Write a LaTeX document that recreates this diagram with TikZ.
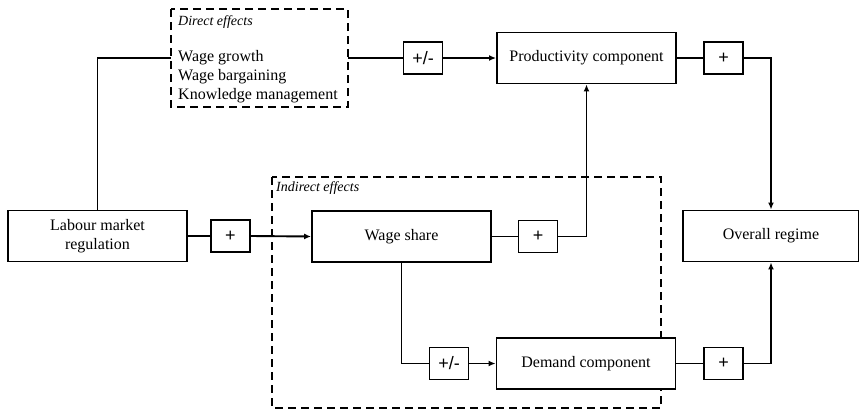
\documentclass[tikz,border=0pt]{standalone}
\usepackage{fontspec}
\setmainfont{Liberation Serif}
\setsansfont{Liberation Sans}
\usetikzlibrary{arrows.meta,positioning}
\tikzset{
  lw/.style={line width=1.9pt},
  box/.style={draw, fill=white, lw, minimum width=179pt, minimum height=51pt, inner sep=0pt, font=\fontsize{16}{19}\selectfont, align=center},
  sign/.style={draw, fill=white, lw, minimum width=39pt, minimum height=32pt, inner sep=0pt, font=\sffamily\fontsize{18}{20}\selectfont},
  group/.style={draw, lw, dash pattern=on 8pt off 5pt},
  conn/.style={lw},
  arr/.style={lw, -{Latex[length=7pt,width=6pt]}},
  lbl/.style={font=\itshape\fontsize{14}{16}\selectfont, anchor=west, inner sep=0pt},
  item/.style={font=\fontsize{16}{19}\selectfont, anchor=west, inner sep=0pt}
}
\begin{document}
\begin{tikzpicture}[x=1pt,y=-1pt]
\useasboundingbox (0,0) rectangle (859,410);
% groups
\draw[group] (171,9) rectangle (348,107);
\node[lbl] (dlabel) at (178,22) {Direct effects};
\node[item] (wg) at (178,58) {Wage growth};
\node[item] (wb) at (178,77) {Wage bargaining};
\node[item] (km) at (178,96) {Knowledge management};
\coordinate (dirin) at (171,58);
\coordinate (dirout) at (348,58);
\draw[group] (272,177) rectangle (661,408);
\node[lbl] (ilabel) at (276,188) {Indirect effects};
% boxes
\node[box] (lmr) at (97.5,236) {Labour market\\regulation};
\node[box] (prod) at (586.5,58) {Productivity component};
\node[box] (ws) at (401.5,236.5) {Wage share};
\node[box] (dem) at (586,363.5) {Demand component};
\node[box, minimum width=176pt] (overall) at (771,236) {Overall regime};
% signs
\node[sign] (pm1) at (423,58) {+/-};
\node[sign] (p1) at (723.5,58) {+};
\node[sign] (p2) at (230.5,236) {+};
\node[sign] (p3) at (538,236.5) {+};
\node[sign] (pm2) at (449,363.5) {+/-};
\node[sign] (p4) at (723.5,363.5) {+};
% connectors
\draw[conn] (lmr.north) |- (dirin);
\draw[conn] (dirout) -- (pm1.west);
\draw[arr] (pm1.east) -- (prod.west);
\draw[conn] (prod.east) -- (p1.west);
\draw[arr] (p1.east) -| (overall.north);
\draw[conn] (lmr.east) -- (p2.west);
\draw[arr] (p2.east) -- (ws.west);
\draw[conn] (ws.east) -- (p3.west);
\draw[arr] (p3.east) -| (prod.south);
\draw[conn] (ws.south) |- (pm2.west);
\draw[arr] (pm2.east) -- (dem.west);
\draw[conn] (dem.east) -- (p4.west);
\draw[arr] (p4.east) -| (overall.south);
\end{tikzpicture}
\end{document}
